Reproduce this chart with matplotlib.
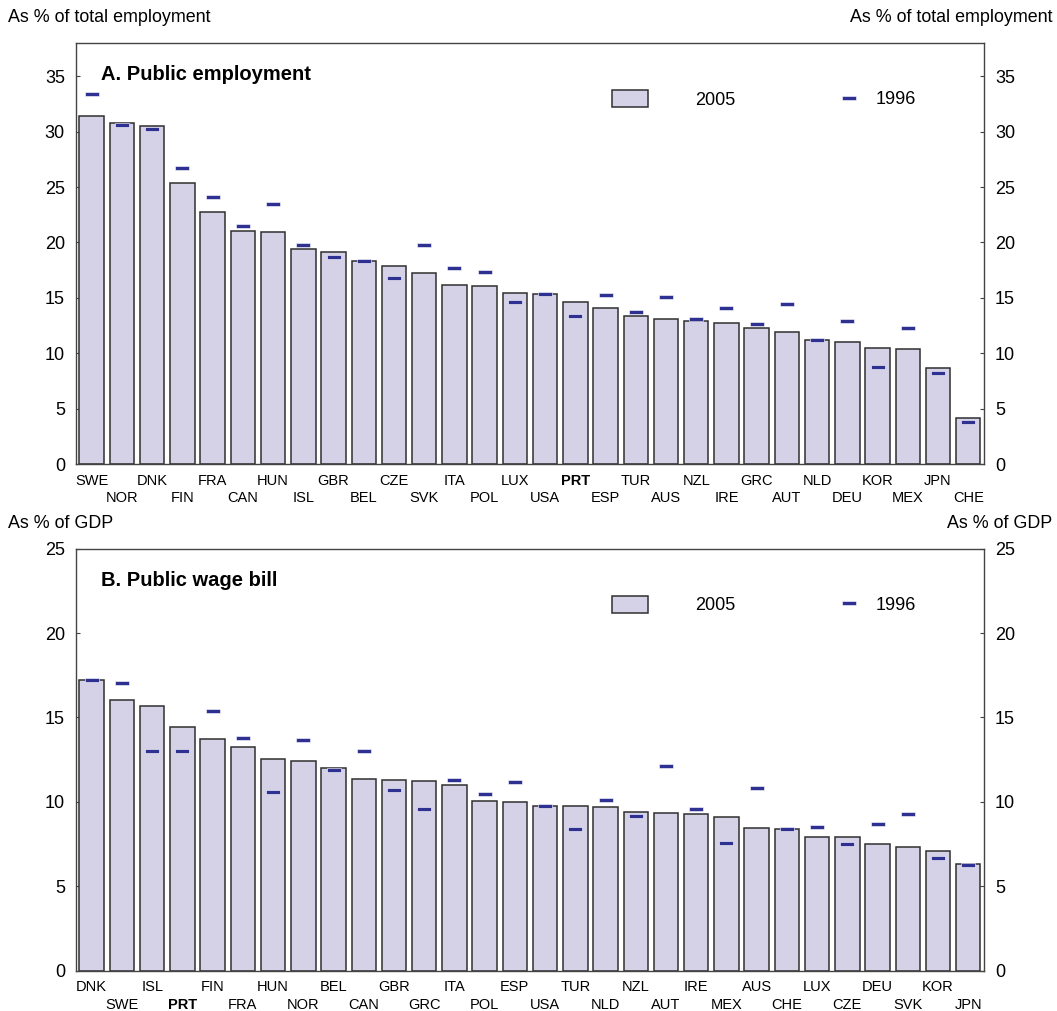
import numpy as np
from matplotlib import pyplot as plt

plt.rcParams['font.family'] = ['Liberation Sans', 'DejaVu Sans']

# Panel A: public employment, % of total employment
emp_countries = ['SWE', 'NOR', 'DNK', 'FIN', 'FRA', 'CAN', 'HUN', 'ISL', 'GBR', 'BEL',
                 'CZE', 'SVK', 'ITA', 'POL', 'LUX', 'USA', 'PRT', 'ESP', 'TUR', 'AUS',
                 'NZL', 'IRE', 'GRC', 'AUT', 'NLD', 'DEU', 'KOR', 'MEX', 'JPN', 'CHE']
emp_2005 = [31.4, 30.8, 30.5, 25.4, 22.75, 21.0, 20.9, 19.4, 19.1, 18.35,
            17.9, 17.2, 16.2, 16.05, 15.4, 15.35, 14.6, 14.1, 13.35, 13.1,
            12.9, 12.7, 12.3, 11.95, 11.2, 11.0, 10.45, 10.35, 8.7, 4.2]
emp_1996 = [33.4, 30.6, 30.2, 26.7, 24.1, 21.5, 23.5, 19.75, 18.7, 18.35,
            16.8, 19.75, 17.7, 17.35, 14.6, 15.35, 13.4, 15.25, 13.7, 15.1,
            13.1, 14.05, 12.6, 14.45, 11.2, 12.9, 8.8, 12.25, 8.2, 3.8]

# Panel B: public wage bill, % of GDP
wage_countries = ['DNK', 'SWE', 'ISL', 'PRT', 'FIN', 'FRA', 'HUN', 'NOR', 'BEL', 'CAN',
                  'GBR', 'GRC', 'ITA', 'POL', 'ESP', 'USA', 'TUR', 'NLD', 'NZL', 'AUT',
                  'IRE', 'MEX', 'AUS', 'CHE', 'LUX', 'CZE', 'DEU', 'SVK', 'KOR', 'JPN']
wage_2005 = [17.23, 16.03, 15.67, 14.45, 13.75, 13.26, 12.55, 12.45, 11.98, 11.38,
             11.3, 11.26, 10.99, 10.04, 10.0, 9.78, 9.78, 9.7, 9.41, 9.33,
             9.29, 9.11, 8.46, 8.38, 7.89, 7.89, 7.51, 7.35, 7.1, 6.31]
wage_1996 = [17.2, 17.03, 13.0, 13.04, 15.4, 13.77, 10.6, 13.65, 11.9, 13.0,
             10.7, 9.57, 11.3, 10.47, 11.19, 9.74, 8.38, 10.12, 9.17, 12.13,
             9.6, 7.59, 10.85, 8.42, 8.5, 7.51, 8.71, 9.29, 6.68, 6.27]

BAR = '#d5d2e8'
EDGE = '#2f2f2f'
DASH = '#2e3192'
dash_marker = [(-1, -0.3), (1, -0.3), (1, 0.3), (-1, 0.3), (-1, -0.3)]

fig = plt.figure(figsize=(10.57, 10.11), dpi=100)
ax1 = fig.add_axes([0.0719, 0.541, 0.859, 0.4165])
ax2 = fig.add_axes([0.0719, 0.0399, 0.859, 0.4174])


def panel(ax, countries, v2005, v1996, ymax, yticks, title):
    x = np.arange(len(countries))
    bars = ax.bar(x, v2005, width=0.81, color=BAR, edgecolor=EDGE, lw=1.1, zorder=2)
    dash, = ax.plot(x, v1996, ls='none', marker=dash_marker, ms=9.6, color=DASH,
                    mec='white', mew=0.4, zorder=3)
    ax.set_xlim(-0.52, len(countries) - 0.48)
    ax.set_ylim(0, ymax)
    ax.set_yticks(yticks)
    ax.tick_params(axis='y', direction='in', length=3, labelsize=13, pad=8,
                   left=True, right=True, labelleft=True, labelright=True, color='#444444')
    labels = [c if i % 2 == 0 else '\n' + c for i, c in enumerate(countries)]
    ax.set_xticks(x)
    ax.set_xticklabels(labels, fontsize=10.5)
    ax.tick_params(axis='x', length=0, pad=7)
    for t in ax.get_xticklabels():
        t.set_linespacing(1.3)
        if 'PRT' in t.get_text():
            t.set_fontweight('bold')
    for s in ax.spines.values():
        s.set_color('#444444')
        s.set_linewidth(1.0)
    ax.text(0.0275, 0.924, title, transform=ax.transAxes, fontsize=14.5,
            fontweight='bold', va='center', ha='left')

    # two separate legend entries: 2005 bars, then 1996 dashes
    leg1 = ax.legend([bars], ['2005'], loc='center left', bbox_to_anchor=(0.590, 0.866),
                     frameon=False, fontsize=13, handlelength=2.0, handleheight=1.04,
                     handletextpad=2.6, borderpad=0, borderaxespad=0)
    ax.add_artist(leg1)
    ax.legend([dash], ['1996'], loc='center left', bbox_to_anchor=(0.841, 0.866),
              frameon=False, fontsize=13, handlelength=1.0, handletextpad=1.0,
              borderpad=0, borderaxespad=0)


panel(ax1, emp_countries, emp_2005, emp_1996, 38, range(0, 36, 5), 'A. Public employment')
panel(ax2, wage_countries, wage_2005, wage_1996, 25, range(0, 26, 5), 'B. Public wage bill')

fig.text(8 / 1057, 1 - 17 / 1011, 'As % of total employment', fontsize=12.9, va='center', ha='left')
fig.text(1052 / 1057, 1 - 17 / 1011, 'As % of total employment', fontsize=12.9, va='center', ha='right')
fig.text(8 / 1057, 1 - 524 / 1011, 'As % of GDP', fontsize=12.9, va='center', ha='left')
fig.text(1052 / 1057, 1 - 524 / 1011, 'As % of GDP', fontsize=12.9, va='center', ha='right')

plt.savefig('out.png', dpi=100)
